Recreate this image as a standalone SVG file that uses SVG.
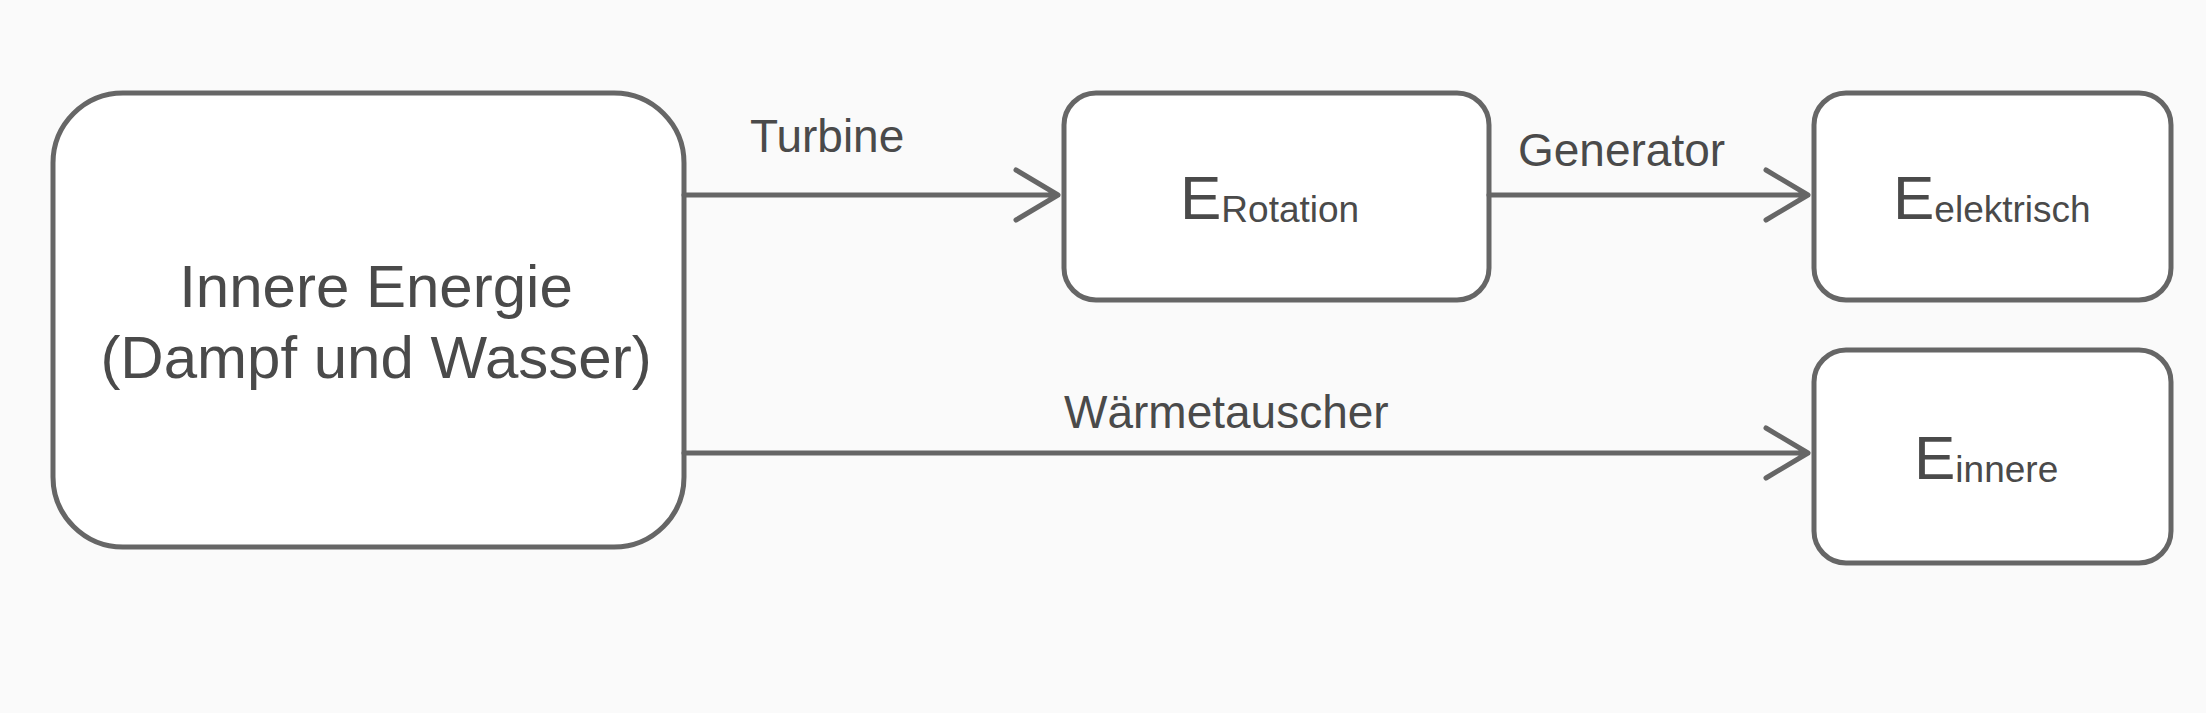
<svg xmlns="http://www.w3.org/2000/svg" width="2206" height="713" viewBox="0 0 2206 713">
<style>
.box{fill:#fff;stroke:#666;stroke-width:5}
.ln{stroke:#666;stroke-width:5;fill:none;stroke-linecap:round;stroke-linejoin:round}
text{font-family:"Liberation Sans",Arial,sans-serif;fill:#4a4a4a}
.big{font-size:60px}
.lbl{font-size:46px}
.e{font-size:62px}
.sub{font-size:37px}
</style>
<rect width="2206" height="713" fill="#fafafa"/>
<g id="innere">
<rect class="box" x="53" y="93" width="631" height="454" rx="70"/>
<text class="big" x="376" y="307" text-anchor="middle">Innere Energie</text>
<text class="big" x="376" y="378" text-anchor="middle">(Dampf und Wasser)</text>
</g>
<g id="rotation">
<rect class="box" x="1064" y="93" width="425" height="207" rx="32"/>
<text x="1180" y="219"><tspan class="e">E</tspan><tspan class="sub" dy="3">Rotation</tspan></text>
</g>
<g id="elektrisch">
<rect class="box" x="1814" y="93" width="357" height="207" rx="32"/>
<text x="1893" y="219"><tspan class="e">E</tspan><tspan class="sub" dy="3">elektrisch</tspan></text>
</g>
<g id="einnere">
<rect class="box" x="1814" y="350" width="357" height="213" rx="32"/>
<text x="1914" y="479"><tspan class="e">E</tspan><tspan class="sub" dy="3">innere</tspan></text>
</g>
<g id="connectors">
<path class="ln" d="M684 195 H1058 M1016 170 L1058 195 L1016 220"/>
<path class="ln" d="M1489 195 H1808 M1766 170 L1808 195 L1766 220"/>
<path class="ln" d="M684 453 H1808 M1766 428 L1808 453 L1766 478"/>
<text class="lbl" x="750" y="152">Turbine</text>
<text class="lbl" x="1518" y="166">Generator</text>
<text class="lbl" x="1064" y="428">Wärmetauscher</text>
</g>
</svg>
